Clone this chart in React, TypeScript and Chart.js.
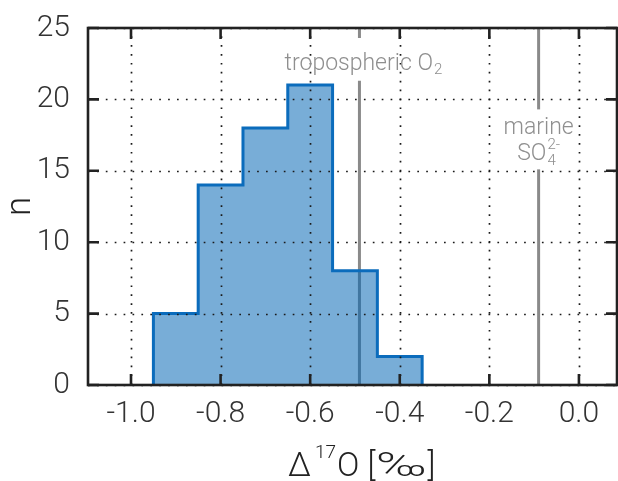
import React, { useEffect, useRef } from 'react';
import { Chart, registerables } from 'chart.js';
Chart.register(...registerables);

// ---- data ----
const binEdges = [-0.95, -0.85, -0.75, -0.65, -0.55, -0.45, -0.35];
const counts = [5, 14, 18, 21, 8, 2];
const tropoO2 = -0.49;
const marineSO4 = -0.09;
const xMin = -1.096;
const xMax = 0.085;
const yMin = 0;
const yMax = 25;
const xStep = 0.2;
const yStep = 5;
// gaps (in n units) where the reference lines are interrupted by their labels
const tropoGap = [21.3, 24.3];
const marineGap = [15.1, 19.3];

const FONT = 'Roboto';
const GRAY_TEXT = '#8f8f8f';
const AXIS = '#222222';

function buildHist() {
  const pts: { x: number; y: number }[] = [{ x: binEdges[0], y: 0 }];
  counts.forEach((c, i) => {
    pts.push({ x: binEdges[i], y: c });
    pts.push({ x: binEdges[i + 1], y: c });
  });
  pts.push({ x: binEdges[binEdges.length - 1], y: 0 });
  return pts;
}

const decorPlugin = {
  id: 'decor',
  afterDatasetsDraw(chart: any) {
    const { ctx, chartArea: a, scales } = chart;
    const xs = scales.x;
    const ys = scales.y;
    ctx.save();
    ctx.strokeStyle = '#1a1a1a';
    ctx.lineWidth = 1.7;
    ctx.setLineDash([1.7, 7.2]);
    xs.ticks.forEach((t: any) => {
      const px = Math.round(xs.getPixelForValue(t.value)) + 0.5;
      ctx.beginPath();
      ctx.moveTo(px, a.bottom);
      ctx.lineTo(px, a.top);
      ctx.stroke();
    });
    ys.ticks.forEach((t: any) => {
      const py = Math.round(ys.getPixelForValue(t.value)) + 0.5;
      ctx.beginPath();
      ctx.moveTo(a.left, py);
      ctx.lineTo(a.right, py);
      ctx.stroke();
    });
    ctx.restore();
  },
  afterDraw(chart: any) {
    const { ctx, chartArea: a, scales } = chart;
    const xs = scales.x;
    const ys = scales.y;
    ctx.save();
    // box
    ctx.strokeStyle = AXIS;
    ctx.lineWidth = 2.6;
    ctx.setLineDash([]);
    ctx.strokeRect(a.left, a.top, a.right - a.left, a.bottom - a.top);
    // inward ticks
    const tl = 11;
    xs.ticks.forEach((t: any) => {
      const px = xs.getPixelForValue(t.value);
      ctx.beginPath();
      ctx.moveTo(px, a.bottom);
      ctx.lineTo(px, a.bottom - tl);
      ctx.moveTo(px, a.top);
      ctx.lineTo(px, a.top + tl);
      ctx.stroke();
    });
    ys.ticks.forEach((t: any) => {
      const py = ys.getPixelForValue(t.value);
      ctx.beginPath();
      ctx.moveTo(a.left, py);
      ctx.lineTo(a.left + tl, py);
      ctx.moveTo(a.right, py);
      ctx.lineTo(a.right - tl, py);
      ctx.stroke();
    });

    // annotation texts
    const ann = `300 23px ${FONT}`;
    const annSmall = `300 15px ${FONT}`;
    ctx.fillStyle = GRAY_TEXT;
    ctx.textBaseline = 'alphabetic';
    // tropospheric O2
    {
      const main = 'tropospheric O';
      const sub = '2';
      ctx.font = ann;
      const w1 = ctx.measureText(main).width;
      ctx.font = annSmall;
      const w2 = ctx.measureText(sub).width;
      const cx = xs.getPixelForValue(tropoO2) + 4;
      const by = ys.getPixelForValue(22.08);
      const x0 = cx - (w1 + w2 + 1) / 2;
      ctx.font = ann;
      ctx.textAlign = 'left';
      ctx.fillText(main, x0, by);
      ctx.font = annSmall;
      ctx.fillText(sub, x0 + w1 + 1, by + 4);
    }
    // marine SO4 2-
    {
      const cx = xs.getPixelForValue(marineSO4);
      ctx.font = ann;
      ctx.textAlign = 'center';
      ctx.fillText('marine', cx, ys.getPixelForValue(17.55));
      const by2 = ys.getPixelForValue(15.77);
      const m = 'SO';
      const s = '4';
      const sup = '2-';
      const w1 = ctx.measureText(m).width;
      ctx.font = annSmall;
      const w2 = ctx.measureText(s).width;
      const w3 = ctx.measureText(sup).width;
      const total = w1 + Math.max(w2, w3) + 1;
      const x0 = cx - total / 2;
      ctx.textAlign = 'left';
      ctx.font = ann;
      ctx.fillText(m, x0, by2);
      ctx.font = annSmall;
      ctx.fillText(s, x0 + w1 + 1, by2 + 5);
      ctx.fillText(sup, x0 + w1 + 1, by2 - 11);
    }

    // axis titles
    ctx.fillStyle = '#222';
    // y: n
    ctx.save();
    ctx.translate(21, (a.top + a.bottom) / 2);
    ctx.rotate(-Math.PI / 2);
    ctx.textAlign = 'center';
    ctx.textBaseline = 'middle';
    ctx.font = `300 35px ${FONT}`;
    ctx.fillText('n', 0, 0);
    ctx.restore();
    // x: Δ17O [‰]
    {
      const big = `300 33px ${FONT}`;
      const small = `300 19px ${FONT}`;
      ctx.textAlign = 'left';
      ctx.textBaseline = 'alphabetic';
      const by = 476;
      let x = 288;
      ctx.font = big;
      ctx.fillText('\u0394', x, by);
      x += ctx.measureText('\u0394').width + 4;
      ctx.font = small;
      ctx.fillText('17', x, by - 18);
      x += ctx.measureText('17').width + 1;
      ctx.font = big;
      ctx.fillText('O [', x, by);
      x += ctx.measureText('O [').width + 1;
      const wp = ctx.measureText('\u2030').width;
      const target = 50;
      ctx.save();
      ctx.translate(x, by);
      ctx.scale(target / wp, 1);
      ctx.fillText('\u2030', 0, 0);
      ctx.restore();
      x += target + 1;
      ctx.fillText(']', x, by);
    }
    ctx.restore();
  },
};

export default function App() {
  const ref = useRef<HTMLCanvasElement | null>(null);
  useEffect(() => {
    if (!ref.current) return;
    const gray = '#8a8a8a';
    const tickFont = { family: FONT, size: 30, weight: '300' as any };
    const chart = new Chart(ref.current, {
      type: 'line',
      data: {
        datasets: [
          {
            label: 'hist',
            data: buildHist(),
            borderColor: '#0b6cbc',
            borderWidth: 3,
            backgroundColor: 'rgba(0,100,180,0.53)',
            fill: 'origin',
            pointRadius: 0,
            tension: 0,
            borderJoinStyle: 'miter',
            order: 0,
          },
          {
            label: 'tropo-low',
            data: [{ x: tropoO2, y: yMin }, { x: tropoO2, y: tropoGap[0] }],
            borderColor: gray,
            borderWidth: 3,
            pointRadius: 0,
            fill: false,
            order: 1,
          },
          {
            label: 'tropo-high',
            data: [{ x: tropoO2, y: tropoGap[1] }, { x: tropoO2, y: yMax }],
            borderColor: gray,
            borderWidth: 3,
            pointRadius: 0,
            fill: false,
            order: 1,
          },
          {
            label: 'marine-low',
            data: [{ x: marineSO4, y: yMin }, { x: marineSO4, y: marineGap[0] }],
            borderColor: gray,
            borderWidth: 3,
            pointRadius: 0,
            fill: false,
            order: 1,
          },
          {
            label: 'marine-high',
            data: [{ x: marineSO4, y: marineGap[1] }, { x: marineSO4, y: yMax }],
            borderColor: gray,
            borderWidth: 3,
            pointRadius: 0,
            fill: false,
            order: 1,
          },
        ],
      } as any,
      options: {
        animation: false,
        responsive: true,
        maintainAspectRatio: false,
        layout: { padding: { top: 23, right: 1, left: 0, bottom: 0 } },
        plugins: { legend: { display: false }, tooltip: { enabled: false } },
        scales: {
          x: {
            type: 'linear',
            min: xMin,
            max: xMax,
            grid: { display: false },
            border: { display: false },
            ticks: {
              stepSize: xStep,
              includeBounds: false,
              padding: 3,
              color: '#333',
              font: tickFont,
              maxRotation: 0,
              autoSkip: false,
              callback: (v: any) => Number(v).toFixed(1),
            },
            afterFit: (s: any) => {
              s.height = 96;
            },
          },
          y: {
            type: 'linear',
            min: yMin,
            max: yMax,
            grid: { display: false },
            border: { display: false },
            ticks: {
              stepSize: yStep,
              padding: 10,
              color: '#333',
              font: tickFont,
            },
            afterFit: (s: any) => {
              s.width = 88;
            },
          },
        },
      } as any,
      plugins: [decorPlugin],
    });
    return () => chart.destroy();
  }, []);
  return (
    <div style={{ position: 'absolute', left: 0, top: 0, width: 618, height: 481, background: '#fff' }}>
      <canvas ref={ref} />
    </div>
  );
}
